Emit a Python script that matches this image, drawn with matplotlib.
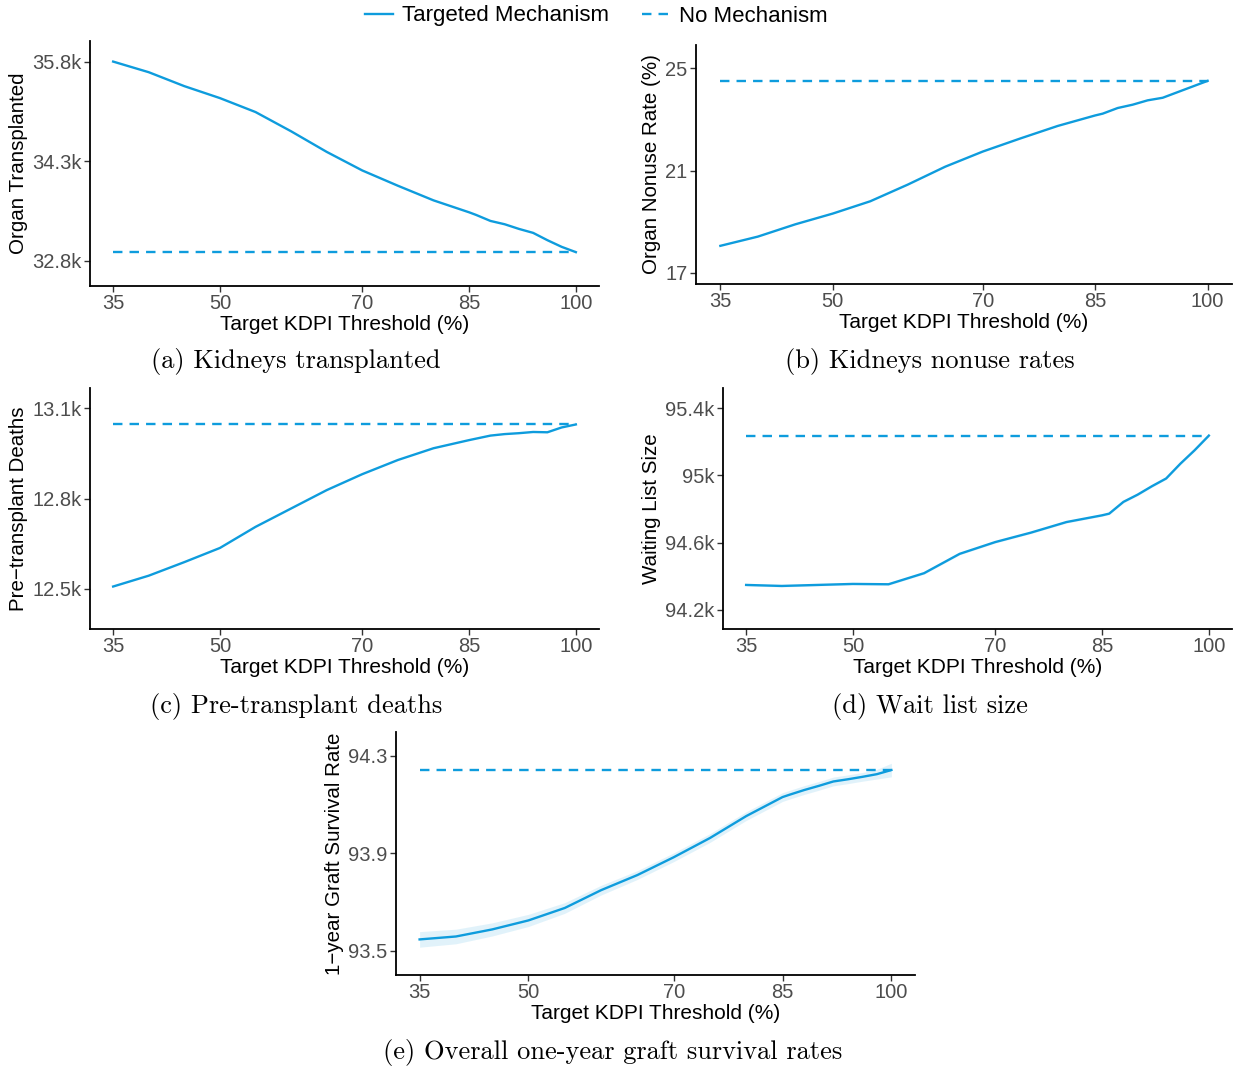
import matplotlib
matplotlib.use('Agg')
import matplotlib.pyplot as plt
from matplotlib.ticker import FuncFormatter
from matplotlib.lines import Line2D

# KDPI thresholds that were simulated
thresholds = [35, 40, 45, 50, 55, 60, 65, 70, 75, 80, 85, 86, 88, 90, 92, 94, 96, 98, 100]

transplanted = [35800, 35640, 35430, 35250, 35040, 34750, 34440, 34160, 33930, 33710,
                33530, 33490, 33400, 33350, 33280, 33220, 33110, 33010, 32930]
transplanted_base = 32930

nonuse = [18.06, 18.42, 18.90, 19.32, 19.80, 20.45, 21.15, 21.74, 22.25, 22.74,
          23.15, 23.22, 23.44, 23.57, 23.74, 23.84, 24.06, 24.28, 24.50]
nonuse_base = 24.50

deaths = [12508, 12544, 12589, 12636, 12706, 12767, 12828, 12881, 12928, 12967,
          12994, 12999, 13009, 13014, 13017, 13021, 13020, 13036, 13046]
deaths_base = 13046

waitlist = [94349, 94343, 94349, 94355, 94353, 94419, 94534, 94604, 94660, 94723,
            94763, 94773, 94843, 94886, 94936, 94982, 95070, 95150, 95237]
waitlist_se = [6] * 19
waitlist_base = 95237

survival = [93.546, 93.558, 93.587, 93.624, 93.675, 93.748, 93.810, 93.883, 93.962, 94.052,
            94.130, 94.140, 94.159, 94.176, 94.194, 94.203, 94.213, 94.224, 94.241]
survival_se = [0.032, 0.030, 0.027, 0.025, 0.022, 0.020, 0.018, 0.018, 0.018, 0.018,
               0.018, 0.018, 0.018, 0.018, 0.018, 0.018, 0.018, 0.020, 0.028]
survival_base = 94.241

x_ticks = [35, 50, 70, 85, 100]

BLUE = '#0E9CDD'
SANS = ['Liberation Sans', 'DejaVu Sans']
W, H = 1233, 1069

fig = plt.figure(figsize=(W / 100, H / 100), dpi=100)


def add_panel(left, top, right, bottom):
    return fig.add_axes([left / W, 1 - bottom / H, (right - left) / W, (bottom - top) / H])


def kfmt(v, pos):
    return f'{v / 1000:g}k'


def style(ax, y, base, ylabel, yticks, ylim, caption, cap_xy, band=None, kilo=False):
    if band is not None:
        lo = [a - b for a, b in zip(y, band)]
        hi = [a + b for a, b in zip(y, band)]
        ax.fill_between(thresholds, lo, hi, color=BLUE, alpha=0.12, linewidth=0)
    ax.plot(thresholds, y, color=BLUE, lw=1.7)
    ax.plot([thresholds[0], thresholds[-1]], [base, base], color=BLUE, lw=1.7, ls=(0, (4, 3)))
    ax.set_xlim(31.75, 103.25)
    ax.set_ylim(*ylim)
    ax.set_xticks(x_ticks)
    ax.set_yticks(yticks)
    if kilo:
        ax.yaxis.set_major_formatter(FuncFormatter(kfmt))
    else:
        ax.yaxis.set_major_formatter(FuncFormatter(lambda v, p: f'{v:g}'))
    for s in ['top', 'right']:
        ax.spines[s].set_visible(False)
    for s in ['left', 'bottom']:
        ax.spines[s].set_linewidth(1.3)
    ax.tick_params(length=4, width=1, color='#333333', labelcolor='#4D4D4D',
                   labelsize=14.5, pad=2)
    for lab in ax.get_xticklabels() + ax.get_yticklabels():
        lab.set_family(SANS)
    ax.set_xlabel('Target KDPI Threshold (%)', fontsize=15, family=SANS, labelpad=1)
    ax.set_ylabel(ylabel, fontsize=14.8, family=SANS, labelpad=3)
    fig.text(cap_xy[0] / W, 1 - cap_xy[1] / H, caption, family='cmr10',
             fontsize=19, ha='center', va='center')


ax_a = add_panel(90, 41, 599, 286)
style(ax_a, transplanted, transplanted_base, 'Organ Transplanted',
      [32800, 34300, 35800], (32420, 36110), '(a) Kidneys transplanted', (296, 362), kilo=True)

ax_b = add_panel(696, 45, 1232, 284)
style(ax_b, nonuse, nonuse_base, 'Organ Nonuse Rate (%)',
      [17, 21, 25], (16.57, 25.9), '(b) Kidneys nonuse rates', (930, 362))

ax_c = add_panel(90, 388, 599, 629)
style(ax_c, deaths, deaths_base, 'Pre\u2212transplant Deaths',
      [12500, 12800, 13100], (12367, 13167), '(c) Pre-transplant deaths', (296, 707), kilo=True)

ax_d = add_panel(723, 388, 1232, 629)
style(ax_d, waitlist, waitlist_base, 'Waiting List Size',
      [94200, 94600, 95000, 95400], (94087, 95520), '(d) Wait list size', (930, 707),
      band=waitlist_se, kilo=True)

ax_e = add_panel(396, 732, 915, 975)
style(ax_e, survival, survival_base, '1\u2212year Graft Survival Rate',
      [93.5, 93.9, 94.3], (93.40, 94.397), '(e) Overall one-year graft survival rates', (613, 1052),
      band=survival_se)

handles = [Line2D([], [], color=BLUE, lw=1.7),
           Line2D([], [], color=BLUE, lw=1.7, ls=(0, (4, 3)))]
fig.legend(handles, ['Targeted Mechanism', 'No Mechanism'], loc='center',
           bbox_to_anchor=(596 / W, 1 - 16 / H), ncol=2, frameon=False,
           prop={'family': SANS, 'size': 16}, handlelength=1.25, columnspacing=1.5,
           handletextpad=0.4)

fig.savefig('out.png', dpi=100)
